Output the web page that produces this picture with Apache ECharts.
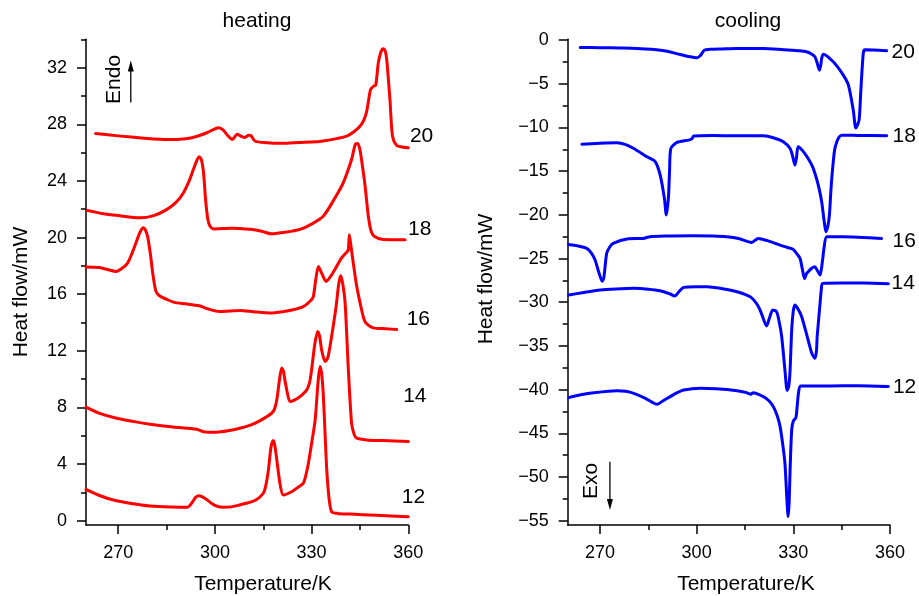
<!DOCTYPE html>
<html>
<head>
<meta charset="utf-8">
<script src="https://cdn.jsdelivr.net/npm/echarts@6/dist/echarts.min.js"></script>
<style>
  html, body { margin: 0; padding: 0; background: #fff; }
  #chart { width: 919px; height: 596px; }
</style>
</head>
<body>
<div id="chart"></div>
<script>
// DSC traces: heat flow (mW) vs temperature (K), one trace per chain length.
const chainLabels = ['20', '18', '16', '14', '12'];

const tempMajorTicks = [270, 300, 330, 360];
const tempMinorTicks = [285, 315, 345];
const heatMajorTicks = [0, 4, 8, 12, 16, 20, 24, 28, 32];
const heatMinorTicks = [2, 6, 10, 14, 18, 22, 26, 30, 34];
const coolMajorTicks = [0, -5, -10, -15, -20, -25, -30, -35, -40, -45, -50, -55];
const coolMinorTicks = [-2.5, -7.5, -12.5, -17.5, -22.5, -27.5, -32.5, -37.5, -42.5, -47.5, -52.5];

// heating runs  [T / K, heat flow / mW]
const heat20 = [[263.0,27.34],[270,27.18],[278,27.02],[285,26.92],[291,26.98],[294.3,27.14],[297.5,27.4],[300,27.68],[301.2,27.75],[302.6,27.58],[304,27.2],[305.4,26.92],[306.9,27.3],[308.2,27.15],[309.3,27.07],[310.5,27.23],[311.2,27.2],[312.5,26.8],[316,26.7],[321,26.66],[326.4,26.72],[330,26.74],[333.6,26.82],[337,26.95],[340.9,27.16],[343,27.45],[345,27.86],[346.2,28.3],[347.1,28.92],[348.3,30.46],[349.3,30.7],[349.9,30.75],[350.7,32.35],[351.5,33.1],[352.2,33.34],[352.8,33.2],[353.3,32.58],[354.3,29.75],[355.1,27.16],[356.4,26.5],[358,26.4],[360,26.34]];
const heat18 = [[260.4,21.92],[265,21.7],[270,21.55],[276.8,21.39],[281,21.55],[285,21.97],[288,22.5],[290.2,23.15],[292,24.0],[293.3,24.8],[294.3,25.4],[295.1,25.7],[295.8,25.5],[296.5,24.5],[297.1,22.68],[297.8,21.3],[298.5,20.79],[299.5,20.61],[305,20.66],[311,20.58],[314.5,20.45],[317.4,20.26],[321,20.35],[326.4,20.58],[330,20.95],[333.6,21.5],[337,22.7],[339.8,23.86],[342.4,25.51],[343.7,26.64],[344.3,26.65],[345.0,26.2],[345.8,25.0],[346.6,23.62],[347.6,21.5],[348.4,20.5],[349.4,20.09],[352.2,19.87],[359.0,19.85]];
const heat16 = [[260,17.92],[264.1,17.88],[267,17.72],[269.3,17.61],[271,17.8],[272.9,18.2],[274.3,18.9],[275.5,19.62],[276.8,20.4],[277.8,20.7],[278.4,20.55],[279.1,20.08],[280.0,18.8],[280.7,17.5],[281.7,16.2],[283,15.85],[284.8,15.66],[287.4,15.42],[291,15.32],[295.1,15.18],[298,14.95],[301.4,14.78],[307.8,14.85],[312,14.76],[317.1,14.67],[321,14.76],[324.3,14.9],[327.4,15.12],[329.5,15.5],[330.5,15.8],[331.2,16.9],[332.1,17.96],[333.1,17.5],[334.5,16.9],[336,17.3],[337.6,17.9],[339.3,18.56],[341.0,19.0],[341.4,19.14],[341.7,20.2],[342.1,19.6],[342.5,18.91],[343.3,17.6],[344.0,16.55],[345.5,14.9],[346.3,14.2],[347.1,13.9],[349.1,13.62],[353,13.56],[356.4,13.5]];
const heat14 = [[260,8.02],[264,7.6],[269.5,7.24],[275,7.0],[279.9,6.82],[287,6.62],[294.3,6.46],[296.4,6.29],[300.5,6.25],[304,6.35],[307.7,6.53],[311,6.75],[313.9,7.05],[317.6,7.59],[318.5,7.9],[319.2,8.54],[320.0,9.9],[320.7,10.78],[321.2,10.6],[321.7,9.95],[322.5,9.0],[323.3,8.42],[324.5,8.5],[326.4,8.77],[328.5,9.24],[329.4,9.8],[330.0,10.66],[331.0,12.5],[331.9,13.37],[332.5,13.0],[333.1,12.07],[334.2,11.24],[335.0,11.5],[335.7,12.31],[336.6,13.6],[337.6,15.13],[338.4,16.7],[339.0,17.3],[339.6,16.8],[340.4,15.37],[341.4,10.66],[342.4,6.89],[343.2,6.1],[344.0,5.83],[347.1,5.71],[352,5.66],[360,5.59]];
const heat12 = [[260,2.22],[264,1.8],[268.5,1.46],[274,1.22],[279.9,1.04],[286,0.97],[291.5,0.96],[293.1,1.34],[294,1.65],[295.0,1.77],[296,1.7],[297.2,1.53],[299.8,1.11],[302.4,0.95],[305,0.98],[307.6,1.11],[310,1.25],[312.7,1.46],[315.0,1.94],[315.8,2.5],[316.6,3.59],[317.4,5.2],[318.1,5.66],[318.6,5.3],[319.2,4.29],[320.2,2.6],[321.2,1.82],[323.8,2.05],[326,2.4],[327.4,2.64],[328.2,3.2],[329.0,4.06],[330.1,5.6],[331.1,7.12],[332.0,9.8],[332.6,10.89],[333.1,10.4],[333.6,9.01],[334.2,6.0],[334.7,3.59],[335.4,1.6],[336.2,0.64],[338,0.52],[341.9,0.47],[350,0.38],[360,0.28]];

// cooling runs  [T / K, heat flow / mW]
const cool20 = [[263.9,-0.84],[270,-0.86],[276,-0.9],[281.5,-0.95],[286,-1.05],[290.8,-1.26],[294.9,-1.64],[298,-1.9],[300.1,-2.02],[301.1,-1.79],[302.4,-1.14],[304,-1.05],[308,-1.0],[312.5,-0.95],[320.7,-0.95],[327,-1.1],[332,-1.22],[334.1,-1.33],[335.5,-1.55],[336.7,-1.9],[337.4,-2.6],[338.1,-3.43],[338.5,-2.9],[338.8,-2.1],[339.3,-1.6],[342.4,-2.48],[345.5,-4.0],[347.1,-5.15],[348.6,-8.0],[349.4,-10.05],[350.4,-9.15],[350.9,-6.1],[351.7,-1.52],[352.2,-1.1],[355,-1.12],[359,-1.2]];
const cool18 = [[264.4,-11.9],[270,-11.8],[275.3,-11.75],[278,-11.95],[280.5,-12.4],[284.6,-13.35],[287.2,-13.92],[288.7,-15.45],[290.0,-18.11],[290.6,-20.02],[291.0,-19.0],[291.3,-17.73],[291.6,-15.0],[292.0,-12.4],[293.9,-11.71],[297.5,-11.44],[298.5,-11.3],[299.1,-10.98],[305,-10.92],[312.5,-10.95],[320.7,-10.95],[324,-11.2],[326.9,-11.63],[329.0,-12.4],[329.8,-13.3],[330.5,-14.3],[331.0,-13.4],[331.5,-12.2],[333,-12.7],[334.6,-13.54],[336,-14.5],[337.2,-15.83],[338.0,-17.0],[338.8,-18.5],[339.5,-20.5],[340.1,-21.93],[340.7,-21.3],[341.2,-20.02],[341.7,-17.0],[342.2,-14.68],[342.8,-12.6],[343.5,-11.63],[344.2,-11.1],[345.0,-10.87],[350,-10.9],[359.0,-10.95]];
const cool16 = [[260.3,-23.4],[263,-23.55],[265.9,-23.84],[267.4,-24.4],[268.5,-25.17],[269.6,-26.5],[270.7,-27.6],[271.2,-27.2],[272.1,-24.4],[273,-23.7],[274.1,-23.26],[278.4,-22.75],[283.5,-22.69],[285.5,-22.5],[290,-22.42],[299,-22.39],[305,-22.42],[309.3,-22.5],[313,-22.7],[317.1,-23.15],[319.1,-22.69],[322,-22.95],[325.9,-23.46],[328,-23.7],[330.0,-23.95],[331.2,-24.5],[332.1,-24.98],[332.8,-26.2],[333.5,-27.3],[334.0,-26.8],[334.6,-26.51],[335.7,-26.1],[336.7,-25.94],[337.5,-26.4],[338.3,-26.89],[339.0,-25.4],[339.6,-23.6],[340.4,-22.5],[345,-22.5],[350,-22.55],[357.4,-22.69]];
const cool14 = [[260.3,-29.18],[265,-28.88],[270.1,-28.6],[275,-28.48],[280.5,-28.41],[285,-28.5],[288.7,-28.68],[291.8,-29.06],[293.2,-29.29],[294.5,-28.8],[296.0,-28.3],[300,-28.22],[303.2,-28.22],[308,-28.45],[312.5,-28.8],[316.6,-29.37],[318.5,-30.1],[319.7,-30.89],[320.8,-32.0],[321.7,-32.72],[322.6,-31.8],[323.6,-30.89],[324.8,-31.08],[325.7,-32.4],[326.4,-33.95],[327.4,-37.76],[328.1,-40.1],[328.6,-39.6],[329.0,-37.76],[329.5,-33.18],[330.0,-31.0],[330.5,-30.32],[331.5,-30.8],[332.6,-31.66],[334.6,-34.32],[335.8,-35.9],[336.7,-36.42],[337.2,-35.5],[337.4,-33.95],[338.3,-30.13],[338.7,-28.5],[339.1,-27.84],[345,-27.8],[352,-27.8],[359.5,-27.88]];
const cool12 = [[260.3,-40.92],[264,-40.6],[268.1,-40.35],[275.3,-40.12],[278,-40.2],[280.5,-40.43],[284.1,-41.0],[286,-41.4],[287.7,-41.69],[289.5,-41.3],[291.8,-40.81],[294,-40.35],[296.0,-40.05],[301.1,-39.85],[306,-39.9],[312.5,-40.12],[315.5,-40.35],[316.8,-40.54],[317.6,-40.35],[320.7,-40.81],[322.5,-41.3],[323.8,-41.95],[325.0,-43.0],[325.9,-44.24],[326.8,-46.5],[327.4,-48.43],[328.0,-52.5],[328.4,-54.54],[328.7,-53.0],[329.0,-49.2],[329.5,-44.62],[330.0,-43.6],[330.8,-43.2],[331.2,-41.9],[331.6,-40.43],[332.3,-39.6],[341.4,-39.59],[350,-39.55],[359.5,-39.65]];

// where each chain-length tag sits, in data units [T, heat flow]
const heatTagPos = [[360.5,27.16],[359.9,20.62],[359.5,14.26],[358.4,8.82],[358.0,1.68]];
const coolTagPos = [[360.5,-1.37],[360.8,-10.98],[360.8,-23.0],[360.5,-27.8],[360.9,-39.7]];

const FONT = '"Liberation Sans", Arial, Helvetica, sans-serif';
const INK = '#000';
const HEAT_COLOR = '#ff0000';
const COOL_COLOR = '#0000ff';

const heatRuns = [heat20, heat18, heat16, heat14, heat12];
const coolRuns = [cool20, cool18, cool16, cool14, cool12];

const gridBox = { top: 39.3, width: 322.3, height: 485.7 };

function minusSign(v) {
  return String(v).replace('-', '\u2212');
}

function makeAxis(gridIndex, position, min, max, ticks, tickLen, primary) {
  return {
    type: 'value',
    gridIndex: gridIndex,
    position: position,
    offset: 0,
    min: min,
    max: max,
    axisLine: { show: primary, onZero: false, lineStyle: { color: INK, width: 1.5 } },
    axisTick: { show: true, inside: false, length: tickLen, customValues: ticks,
                lineStyle: { color: INK, width: 1.5 } },
    axisLabel: primary
      ? { show: true, customValues: ticks, margin: 19, fontSize: 18, fontFamily: FONT,
          color: INK, formatter: minusSign }
      : { show: false },
    splitLine: { show: false }
  };
}

function makeSeries(data, axisIndex, color) {
  return {
    type: 'line',
    xAxisIndex: axisIndex,
    yAxisIndex: axisIndex,
    data: data,
    symbol: 'none',
    showSymbol: false,
    smooth: 0.25,
    clip: false,
    lineStyle: { color: color, width: 3, cap: 'round', join: 'round' },
    emphasis: { disabled: true },
    silent: true
  };
}

const chart = echarts.init(document.getElementById('chart'), null, { renderer: 'canvas' });

chart.setOption({
  animation: false,
  backgroundColor: '#fff',
  grid: [
    Object.assign({ left: 86 }, gridBox),
    Object.assign({ left: 567.7 }, gridBox)
  ],
  xAxis: [
    makeAxis(0, 'bottom', 260, 360, tempMajorTicks, 9, true),
    makeAxis(0, 'bottom', 260, 360, tempMinorTicks, 5, false),
    makeAxis(1, 'bottom', 260, 360, tempMajorTicks, 9, true),
    makeAxis(1, 'bottom', 260, 360, tempMinorTicks, 5, false)
  ],
  yAxis: [
    makeAxis(0, 'left', -0.3, 34, heatMajorTicks, 9, true),
    makeAxis(0, 'left', -0.3, 34, heatMinorTicks, 5, false),
    makeAxis(1, 'left', -55.5, 0.1, coolMajorTicks, 9, true),
    makeAxis(1, 'left', -55.5, 0.1, coolMinorTicks, 5, false)
  ],
  series: heatRuns.map(d => makeSeries(d, 0, HEAT_COLOR))
    .concat(coolRuns.map(d => makeSeries(d, 2, COOL_COLOR)))
});

function toPx(axisIndex, pt) {
  return chart.convertToPixel({ xAxisIndex: axisIndex, yAxisIndex: axisIndex }, pt);
}

function text(str, x, y, opts) {
  opts = opts || {};
  return {
    type: 'text',
    x: x,
    y: y,
    rotation: opts.rotation || 0,
    silent: true,
    style: {
      text: str,
      fill: INK,
      fontSize: opts.size || 21,
      fontFamily: FONT,
      align: opts.align || 'center',
      textAlign: opts.align || 'center',
      verticalAlign: 'middle',
      textVerticalAlign: 'middle'
    }
  };
}

// vertical arrow between two data points, head at the second one
function arrow(axisIndex, from, to) {
  const a = toPx(axisIndex, from);
  const b = toPx(axisIndex, to);
  const dir = b[1] < a[1] ? -1 : 1;
  const headLen = 11, halfW = 3;
  return [
    { type: 'line', silent: true,
      shape: { x1: a[0], y1: a[1], x2: b[0], y2: b[1] - dir * headLen + dir * 1 },
      style: { stroke: INK, lineWidth: 1.3 } },
    { type: 'polygon', silent: true,
      shape: { points: [[b[0], b[1]], [b[0] - halfW, b[1] - dir * headLen], [b[0] + halfW, b[1] - dir * headLen]] },
      style: { fill: INK } }
  ];
}

const graphics = [
  text('heating', 257, 21.7),
  text('cooling', 748, 21.7),
  text('Temperature/K', 263, 584.7),
  text('Temperature/K', 746, 584.7),
  text('Heat flow/mW', 21, 292, { rotation: Math.PI / 2 }),
  text('Heat flow/mW', 486, 279, { rotation: Math.PI / 2 })
];

chainLabels.forEach((lab, i) => {
  const p = toPx(0, heatTagPos[i]);
  graphics.push(text(lab, p[0], p[1], { align: 'left' }));
  const q = toPx(2, coolTagPos[i]);
  graphics.push(text(lab, q[0], q[1], { align: 'left' }));
});

const endoPos = toPx(0, [268.6, 31.17]);
graphics.push(text('Endo', endoPos[0], endoPos[1], { rotation: Math.PI / 2 }));
arrow(0, [273.9, 29.54], [273.9, 32.51]).forEach(g => graphics.push(g));

const exoPos = toPx(2, [267.2, -50.46]);
graphics.push(text('Exo', exoPos[0], exoPos[1], { rotation: Math.PI / 2 }));
arrow(2, [273.1, -48.25], [273.1, -53.78]).forEach(g => graphics.push(g));

chart.setOption({ graphic: graphics });
</script>
</body>
</html>
